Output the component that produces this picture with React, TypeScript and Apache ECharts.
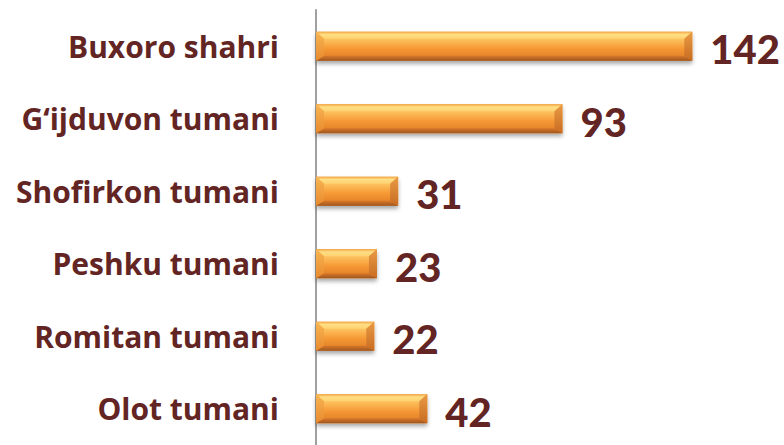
import React, { useEffect, useRef } from "react";
import * as echarts from "echarts";

const categories = [
  "Buxoro shahri",
  "G‘ijduvon tumani",
  "Shofirkon tumani",
  "Peshku tumani",
  "Romitan tumani",
  "Olot tumani",
];
const values = [142, 93, 31, 23, 22, 42];

const TEXT_COLOR = "#632523";
const BAR_H = 29;

export default function App() {
  const ref = useRef<HTMLDivElement>(null);
  useEffect(() => {
    if (!ref.current) return;
    const chart = echarts.init(ref.current, undefined, { renderer: "svg" });
    const bevelData = values.map((v, i) => [v, i]);
    chart.setOption({
      animation: false,
      grid: { left: 316, right: 44, top: 10, bottom: -3, containLabel: false },
      xAxis: {
        type: "value",
        min: 0,
        max: 160,
        show: false,
      },
      yAxis: {
        type: "category",
        data: categories,
        inverse: true,
        axisLine: { show: true, lineStyle: { color: "#a0a0a0", width: 2 } },
        axisTick: { show: false },
        axisLabel: {
          margin: 37,
          color: TEXT_COLOR,
          fontFamily: "Open Sans",
          fontWeight: "bold",
          fontSize: 30,
        },
      },
      series: [
        {
          type: "bar",
          data: values,
          barWidth: BAR_H,
          z: 2,
          itemStyle: {
            color: new echarts.graphic.LinearGradient(0, 0, 0, 1, [
              { offset: 0, color: "#F0A040" },
              { offset: 0.25, color: "#FDC25E" },
              { offset: 0.6, color: "#F59633" },
              { offset: 1, color: "#DA7A25" },
            ]),
            shadowColor: "rgba(0,0,0,0.35)",
            shadowBlur: 4,
            shadowOffsetY: 3,
          },
          label: {
            show: true,
            position: "right",
            distance: 18,
            offset: [0, 3],
            color: TEXT_COLOR,
            fontFamily: "Lato",
            fontWeight: 900,
            fontSize: 40,
          },
        },
        {
          type: "custom",
          data: bevelData,
          z: 3,
          silent: true,
          encode: { x: 0, y: 1 },
          renderItem: (params: any, api: any) => {
            const end = api.coord([api.value(0), api.value(1)]);
            const start = api.coord([0, api.value(1)]);
            const x0 = start[0];
            const x1 = end[0];
            const y0 = end[1] - BAR_H / 2;
            const y1 = end[1] + BAR_H / 2;
            const bx = 8;
            const by = 7;
            const byb = 5;
            return {
              type: "group",
              children: [
                {
                  type: "polygon",
                  shape: {
                    points: [
                      [x0, y0],
                      [x1, y0],
                      [x1 - bx, y0 + by],
                      [x0 + bx, y0 + by],
                    ],
                  },
                  style: {
                    fill: new echarts.graphic.LinearGradient(0, 0, 0, 1, [
                      { offset: 0, color: "#F3A744" },
                      { offset: 0.4, color: "#FFDF85" },
                      { offset: 1, color: "#FFD170" },
                    ]),
                  },
                },
                {
                  type: "polygon",
                  shape: {
                    points: [
                      [x0, y1],
                      [x1, y1],
                      [x1 - bx, y1 - byb],
                      [x0 + bx, y1 - byb],
                    ],
                  },
                  style: {
                    fill: new echarts.graphic.LinearGradient(0, 0, 0, 1, [
                      { offset: 0, color: "#D9782A" },
                      { offset: 1, color: "#9E561E" },
                    ]),
                  },
                },
                {
                  type: "polygon",
                  shape: {
                    points: [
                      [x0, y0],
                      [x0 + bx, y0 + by],
                      [x0 + bx, y1 - byb],
                      [x0, y1],
                    ],
                  },
                  style: {
                    fill: new echarts.graphic.LinearGradient(0, 0, 0, 1, [
                      { offset: 0, color: "#F8B552" },
                      { offset: 1, color: "#E88A2E" },
                    ]),
                  },
                },
                {
                  type: "polygon",
                  shape: {
                    points: [
                      [x1, y0],
                      [x1 - bx, y0 + by],
                      [x1 - bx, y1 - byb],
                      [x1, y1],
                    ],
                  },
                  style: {
                    fill: new echarts.graphic.LinearGradient(0, 0, 0, 1, [
                      { offset: 0, color: "#E99A45" },
                      { offset: 1, color: "#C86C22" },
                    ]),
                  },
                },
              ],
            };
          },
        },
      ],
    });
    return () => chart.dispose();
  }, []);
  return (
    <div
      ref={ref}
      style={{ position: "absolute", left: 0, top: 0, width: 784, height: 445 }}
    />
  );
}
